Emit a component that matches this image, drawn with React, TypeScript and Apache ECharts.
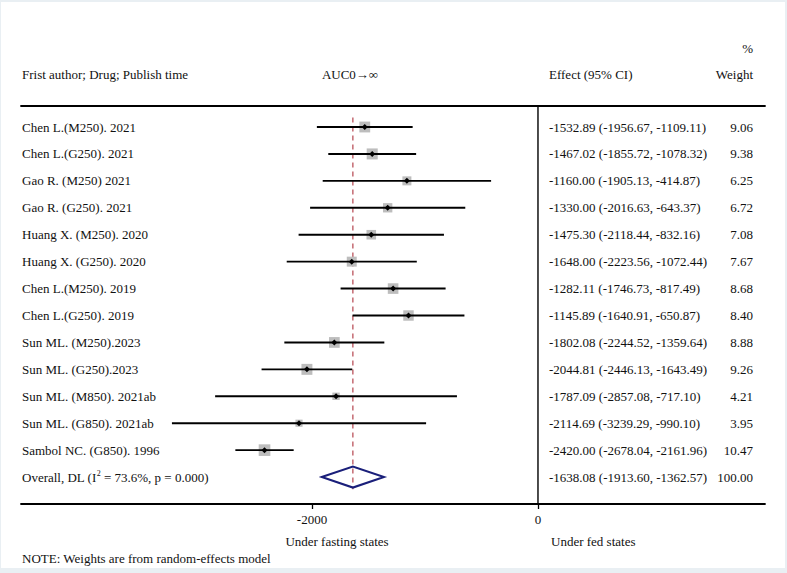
import React, { useEffect, useRef } from "react";
import * as echarts from "echarts";

const studies = [
  "Chen L.(M250). 2021",
  "Chen L.(G250). 2021",
  "Gao R. (M250) 2021",
  "Gao R. (G250). 2021",
  "Huang X. (M250). 2020",
  "Huang X. (G250). 2020",
  "Chen L.(M250). 2019",
  "Chen L.(G250). 2019",
  "Sun ML. (M250).2023",
  "Sun ML. (G250).2023",
  "Sun ML. (M850). 2021ab",
  "Sun ML. (G850). 2021ab",
  "Sambol NC. (G850). 1996",
];
const effects = [-1532.89, -1467.02, -1160.0, -1330.0, -1475.3, -1648.0, -1282.11, -1145.89, -1802.08, -2044.81, -1787.09, -2114.69, -2420.0];
const lowers = [-1956.67, -1855.72, -1905.13, -2016.63, -2118.44, -2223.56, -1746.73, -1640.91, -2244.52, -2446.13, -2857.08, -3239.29, -2678.04];
const uppers = [-1109.11, -1078.32, -414.87, -643.37, -832.16, -1072.44, -817.49, -650.87, -1359.64, -1643.49, -717.1, -990.1, -2161.96];
const weights = [9.06, 9.38, 6.25, 6.72, 7.08, 7.67, 8.68, 8.4, 8.88, 9.26, 4.21, 3.95, 10.47];

const overallLabel = "Overall, DL (I{sup|2} = 73.6%, p = 0.000)";
const overallEffect = -1638.08;
const overallLower = -1913.6;
const overallUpper = -1362.57;
const overallWeight = 100.0;

const xTicks = [-2000, 0];

const FONT = "Liberation Serif";
const TXT = "#111111";

export default function App() {
  const ref = useRef<HTMLDivElement>(null);
  useEffect(() => {
    document.body.style.margin = "0";
    const chart = echarts.init(ref.current!, null, { renderer: "svg" });
    const ci = (lo: number, hi: number, e: number) =>
      `${e.toFixed(2)} (${lo.toFixed(2)}, ${hi.toFixed(2)})`;

    const studyData = studies.map((_, i) => [effects[i], i, lowers[i], uppers[i], weights[i]]);
    const overallIdx = studies.length;

    const textItem = (x: number, y: number, text: string, align: string, rich?: any) => ({
      type: "text",
      x,
      y,
      style: {
        text,
        fill: TXT,
        fontFamily: FONT,
        fontSize: 13,
        align,
        verticalAlign: "middle",
        rich,
      },
    });

    const option: any = {
      animation: false,
      backgroundColor: "#e9eff3",
      textStyle: { fontFamily: FONT },
      grid: { left: 21, right: 22, top: 106, bottom: 69 },
      xAxis: [
        {
          type: "value",
          min: -4575,
          max: 2009,
          position: "bottom",
          splitLine: { show: false },
          axisLine: { show: true, onZero: false, lineStyle: { color: "#000", width: 1.8 } },
          axisTick: { show: true, customValues: xTicks, length: 5, lineStyle: { color: "#000", width: 1.3 } },
          axisLabel: {
            show: true,
            customValues: xTicks,
            formatter: (v: number) => String(v),
            color: TXT,
            fontFamily: FONT,
            fontSize: 13,
            margin: 9,
          },
        },
        {
          type: "value",
          min: -4575,
          max: 2009,
          position: "top",
          splitLine: { show: false },
          axisLine: { show: true, onZero: false, lineStyle: { color: "#000", width: 1.8 } },
          axisTick: { show: false },
          axisLabel: { show: false },
        },
      ],
      yAxis: { type: "value", inverse: true, min: -0.78, max: 14.0, show: false },
      graphic: [
        { type: "rect", shape: { x: 1, y: 2, width: 784, height: 566 }, style: { fill: "#ffffff" }, z: -10, silent: true },
        textItem(753, 48, "%", "right"),
        textItem(22, 74, "Frist author; Drug; Publish time", "left"),
        textItem(350, 74, "AUC0\u2192\u221e", "center"),
        textItem(549, 74, "Effect (95% CI)", "left"),
        textItem(753, 74, "Weight", "right"),
        textItem(337, 541, "Under fasting states", "center"),
        textItem(551, 541, "Under fed states", "left"),
        textItem(22, 558, "NOTE: Weights are from random-effects model", "left"),
      ],
      series: [
        {
          type: "custom",
          name: "zero",
          data: [[0, 0]],
          z: 1,
          renderItem: (params: any, api: any) => {
            const cs = params.coordSys;
            const x = api.coord([0, 0])[0];
            return {
              type: "line",
              shape: { x1: x, y1: cs.y, x2: x, y2: cs.y + cs.height },
              style: { stroke: "#000", lineWidth: 1.4 },
            };
          },
        },
        {
          type: "custom",
          name: "overallLine",
          data: [[overallEffect, 0]],
          z: 2,
          renderItem: (params: any, api: any) => {
            const x = api.coord([api.value(0), 0])[0];
            const y1 = api.coord([0, -0.35])[1];
            const y2 = api.coord([0, 13.45])[1];
            return {
              type: "line",
              shape: { x1: x, y1, x2: x, y2 },
              style: { stroke: "#b5454f", lineWidth: 1.2, lineDash: [5, 4] },
            };
          },
        },
        {
          type: "custom",
          name: "studies",
          data: studyData,
          z: 3,
          renderItem: (params: any, api: any) => {
            const e = api.value(0);
            const i = api.value(1);
            const lo = api.value(2);
            const hi = api.value(3);
            const w = api.value(4);
            const p = api.coord([e, i]);
            const pl = api.coord([lo, i]);
            const ph = api.coord([hi, i]);
            const s = 3.6 * Math.sqrt(w);
            const m = 3;
            return {
              type: "group",
              children: [
                { type: "rect", shape: { x: p[0] - s / 2, y: p[1] - s / 2, width: s, height: s }, style: { fill: "#bdbdbd" } },
                { type: "line", shape: { x1: pl[0], y1: p[1], x2: ph[0], y2: p[1] }, style: { stroke: "#000", lineWidth: 1.9 } },
                {
                  type: "polygon",
                  shape: { points: [[p[0], p[1] - m], [p[0] + m, p[1]], [p[0], p[1] + m], [p[0] - m, p[1]]] },
                  style: { fill: "#000" },
                },
                textItem(22, p[1], studies[params.dataIndex], "left"),
                textItem(549, p[1], ci(lo, hi, e), "left"),
                textItem(753, p[1], w.toFixed(2), "right"),
              ],
            };
          },
        },
        {
          type: "custom",
          name: "overall",
          data: [[overallEffect, overallIdx, overallLower, overallUpper, overallWeight]],
          z: 4,
          renderItem: (params: any, api: any) => {
            const e = api.value(0);
            const i = api.value(1);
            const lo = api.value(2);
            const hi = api.value(3);
            const w = api.value(4);
            const p = api.coord([e, i]);
            const pl = api.coord([lo, i]);
            const ph = api.coord([hi, i]);
            const h = 10.5;
            return {
              type: "group",
              children: [
                {
                  type: "polygon",
                  shape: { points: [[pl[0], p[1]], [p[0], p[1] - h], [ph[0], p[1]], [p[0], p[1] + h]] },
                  style: { fill: "none", stroke: "#1a1f7a", lineWidth: 2 },
                },
                textItem(22, p[1], overallLabel, "left", {
                  sup: { fontSize: 8, fontFamily: FONT, fill: TXT, verticalAlign: "top", padding: [0, 0, 7, 0] },
                }),
                textItem(549, p[1], ci(lo, hi, e), "left"),
                textItem(753, p[1], w.toFixed(2), "right"),
              ],
            };
          },
        },
      ],
    };
    chart.setOption(option);
    return () => chart.dispose();
  }, []);
  return <div ref={ref} style={{ width: 787, height: 573 }} />;
}
